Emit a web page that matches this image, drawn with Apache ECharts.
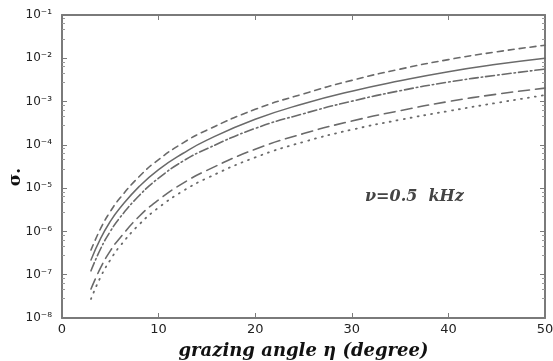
<!DOCTYPE html>
<html><head><meta charset="utf-8">
<script src="https://cdn.jsdelivr.net/npm/echarts@6/dist/echarts.min.js"></script>
<style>html,body{margin:0;padding:0;background:#fff}#c{width:553px;height:361px}</style>
</head><body><div id="c"></div>
<script>
const angles = [3,4,5,6,8,10,12.5,15,20,25,30,35,40,45,50];
const shortDash = [3.72e-7,1.17e-6,2.88e-6,5.89e-6,1.86e-5,4.57e-5,1.10e-4,2.19e-4,6.61e-4,1.51e-3,3.09e-3,5.62e-3,9.33e-3,1.41e-2,2.0e-2];
const solid = [2.19e-7,6.92e-7,1.70e-6,3.47e-6,1.10e-5,2.69e-5,6.31e-5,1.29e-4,3.89e-4,8.91e-4,1.74e-3,3.02e-3,4.90e-3,7.24e-3,1.0e-2];
const dashDot = [1.23e-7,3.98e-7,1.0e-6,2.09e-6,6.76e-6,1.70e-5,4.17e-5,8.13e-5,2.40e-4,5.25e-4,1.02e-3,1.78e-3,2.82e-3,4.07e-3,5.62e-3];
const longDash = [4.68e-8,1.45e-7,3.55e-7,7.08e-7,2.24e-6,5.37e-6,1.29e-5,2.57e-5,7.94e-5,1.82e-4,3.55e-4,6.17e-4,1.0e-3,1.48e-3,2.04e-3];
const dotted = [2.75e-8,8.91e-8,2.19e-7,4.57e-7,1.45e-6,3.55e-6,8.51e-6,1.70e-5,5.13e-5,1.17e-4,2.24e-4,3.80e-4,6.03e-4,9.33e-4,1.41e-3];
const xTicks = ['0','10','20','30','40','50'];
const yTickLabels = {'-1':'10\u207B\u00B9','-2':'10\u207B\u00B2','-3':'10\u207B\u00B3','-4':'10\u207B\u2074','-5':'10\u207B\u2075','-6':'10\u207B\u2076','-7':'10\u207B\u2077','-8':'10\u207B\u2078'};

const lineColor = '#6a6a6a';
const axisColor = '#7a7a7a';
function mk(name, data, type, width) {
  return {
    name, type: 'line', smooth: true, showSymbol: false,
    data: angles.map((a, i) => [a, data[i]]),
    lineStyle: { color: lineColor, width: width || 1.6, type: type, cap: 'round' }
  };
}
const chart = echarts.init(document.getElementById('c'));
const xBase = {
  type: 'value', min: 0, max: 50, interval: 10,
  axisLine: { show: true, onZero: false, lineStyle: { color: axisColor, width: 2 } },
  axisTick: { show: true, inside: true, length: 5, lineStyle: { color: axisColor } },
  splitLine: { show: false }
};
const yBase = {
  type: 'log', min: 1e-8, max: 1e-1, logBase: 10,
  axisLine: { show: true, onZero: false, lineStyle: { color: axisColor, width: 2 } },
  axisTick: { show: true, inside: true, length: 5, lineStyle: { color: axisColor } },
  minorTick: { show: true, splitNumber: 5, length: 3, lineStyle: { color: '#999' } },
  splitLine: { show: false }
};
chart.setOption({
  animation: false,
  backgroundColor: '#fff',
  grid: { left: 62, right: 8, top: 15, bottom: 43, containLabel: false, outerBoundsMode: 'none' },
  xAxis: [
    Object.assign({}, xBase, {
      position: 'bottom',
      axisLabel: { color: '#222', fontSize: 13, fontFamily: 'DejaVu Sans', margin: 5,
        formatter: v => xTicks[Math.round(v / 10)] },
      name: 'grazing angle \u03B7 (degree)', nameLocation: 'middle', nameGap: 24,
      nameTextStyle: { color: '#111', fontSize: 18, fontWeight: 'bold', fontStyle: 'italic', fontFamily: 'DejaVu Serif' }
    }),
    Object.assign({}, xBase, { position: 'top', axisLabel: { show: false } })
  ],
  yAxis: [
    Object.assign({}, yBase, {
      position: 'left',
      axisLabel: { color: '#222', fontSize: 12, fontFamily: 'DejaVu Sans', margin: 10,
        formatter: v => yTickLabels[String(Math.round(Math.log10(v)))] || '' }
    }),
    Object.assign({}, yBase, { position: 'right', axisLabel: { show: false } })
  ],
  series: [
    mk('short', shortDash, [6, 5]),
    mk('solid', solid, 'solid', 1.5),
    mk('dashdot', dashDot, [9, 3, 1.5, 3]),
    mk('long', longDash, [11, 6]),
    mk('dotted', dotted, [1, 6], 1.8)
  ],
  graphic: [{
    type: 'text', left: 365, top: 189,
    style: { text: '\u03BD=0.5  kHz', fill: '#444', fontSize: 16, fontStyle: 'italic', fontWeight: 'bold', fontFamily: 'DejaVu Serif' }
  }, {
    type: 'text', x: 16, y: 177, rotation: Math.PI / 2,
    style: { text: '\u03C3.', fill: '#111', fontSize: 17, fontWeight: 'bold', fontFamily: 'DejaVu Serif', align: 'center', verticalMiddle: 'middle', verticalAlign: 'middle' }
  }]
});
</script></body></html>
